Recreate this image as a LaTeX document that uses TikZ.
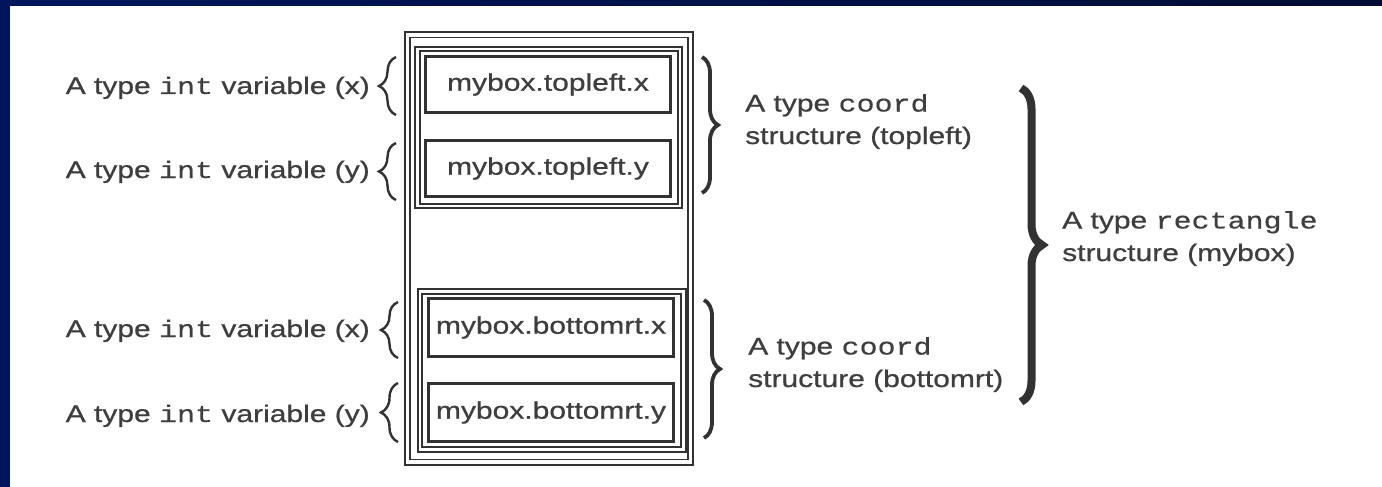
\documentclass[tikz,border=0pt]{standalone}
\usepackage{fontspec}
\setmainfont[FakeStretch=1.25,FakeBold=0.7]{Liberation Sans}
\newfontfamily\codefont[FakeStretch=1.25,FakeBold=0.4]{Liberation Mono}
\newcommand{\cd}[1]{{\codefont #1}}
\usetikzlibrary{decorations.pathreplacing}
\definecolor{navy}{RGB}{0,22,92}
\definecolor{navydark}{RGB}{0,12,52}
\definecolor{ink}{RGB}{50,50,50}
\definecolor{tink}{RGB}{62,62,62}
\begin{document}
\begin{tikzpicture}[x=1pt,y=-1pt,
  lbl/.style={font=\fontsize{24}{32.5}\selectfont, text=tink, inner sep=0pt},
  rlbl/.style={lbl, align=left, anchor=base west},
  field/.style={draw=ink, line width=2.2pt, minimum width=245pt, minimum height=56pt, inner sep=0pt, font=\fontsize{24}{28}\selectfont, text=tink},
  dbox/.style={draw=ink, double=white, line width=1.9pt, inner sep=0pt},
  lbrace/.style={decorate, decoration={brace, amplitude=17pt}, draw=ink, line width=2.4pt},
  rbrace/.style={decorate, decoration={brace, amplitude=16pt}, draw=ink, line width=3.8pt},
  bigbrace/.style={decorate, decoration={brace, amplitude=21pt}, draw=ink, line width=8pt}]
\useasboundingbox (0,0) rectangle (1382,487);
\fill[white] (0,0) rectangle (1382,487);
\shade[left color=navy, right color=navydark] (0,0) rectangle (1382,6);
\fill[navy] (0,0) rectangle (10,487);

% outer structure box
\node[dbox, double distance=3.2pt, minimum width=283pt, minimum height=427pt] (outer) at (549,248.5) {};
% coord structure boxes
\node[dbox, double distance=2.4pt, minimum width=262.5pt, minimum height=157pt] (g1) at (548.75,127.5) {};
\node[dbox, double distance=2.4pt, minimum width=263.5pt, minimum height=158pt] (g2) at (551.75,370.5) {};

% fields
\node[field] (f1) at (548,84.5) {mybox.topleft.x};
\node[field] (f2) at (548,168.5) {mybox.topleft.y};
\node[field, minimum height=58pt] (f3) at (551,327.5) {mybox.bottomrt.x};
\node[field, minimum height=58pt] (f4) at (551,412.5) {mybox.bottomrt.y};

% left labels
\node[lbl, anchor=base east] (l1) at (370,94) {A type \cd{int} variable (x)};
\node[lbl, anchor=base east] (l2) at (370,178) {A type \cd{int} variable (y)};
\node[lbl, anchor=base east] (l3) at (370,337) {A type \cd{int} variable (x)};
\node[lbl, anchor=base east] (l4) at (370,422) {A type \cd{int} variable (y)};

% left braces
\coordinate (lb1a) at (396,115); \coordinate (lb1b) at (396,57);
\coordinate (lb2a) at (396,200); \coordinate (lb2b) at (396,143);
\coordinate (lb3a) at (398,358); \coordinate (lb3b) at (398,302);
\coordinate (lb4a) at (398,442); \coordinate (lb4b) at (398,383);
\draw[lbrace] (lb1a) -- (lb1b);
\draw[lbrace] (lb2a) -- (lb2b);
\draw[lbrace] (lb3a) -- (lb3b);
\draw[lbrace] (lb4a) -- (lb4b);

% right braces
\coordinate (rb1a) at (702,57); \coordinate (rb1b) at (702,193);
\coordinate (rb2a) at (704,300); \coordinate (rb2b) at (704,438);
\coordinate (bba) at (1021,88); \coordinate (bbb) at (1021,402);
\draw[rbrace] (rb1a) -- (rb1b);
\draw[rbrace] (rb2a) -- (rb2b);
\draw[bigbrace] (bba) -- (bbb);

% right labels (base anchor = last line)
\node[rlbl] (c1) at (745,144) {A type \cd{coord}\\structure (topleft)};
\node[rlbl] (c2) at (748,387) {A type \cd{coord}\\structure (bottomrt)};
\node[rlbl] (r1) at (1062,261) {A type \cd{rectangle}\\structure (mybox)};
\end{tikzpicture}
\end{document}
